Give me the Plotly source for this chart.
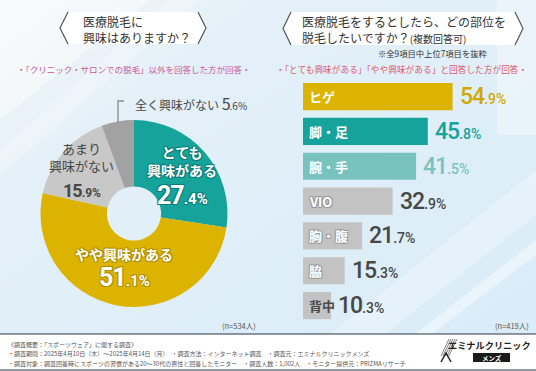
import base64
import numpy as np
import plotly.graph_objects as go

W, H = 536, 371

# ---------------- data ----------------
pie_labels = ["とても興味がある", "やや興味がある", "あまり興味がない", "全く興味がない"]
pie_values = [27.4, 51.1, 15.9, 5.6]

bar_labels = ["ヒゲ", "脚・足", "腕・手", "VIO", "胸・腹", "脇", "背中"]
bar_values = [54.9, 45.8, 41.5, 32.9, 21.7, 15.3, 10.3]

left_title = "医療脱毛に<br>興味はありますか？"
right_title = "医療脱毛をするとしたら、どの部位を<br>脱毛したいですか？<span style='font-size:10px'>(複数回答可)</span>"
left_sub = "・「クリニック・サロンでの脱毛」以外を回答した方が回答・"
right_sub = "・「とても興味がある」「やや興味がある」と回答した方が回答・"
right_note = "※全9項目中上位7項目を抜粋"
left_n = "(n=534人)"
right_n = "(n=419人)"
footer_lines = [
    "《調査概要：「スポーツウェア」に関する調査》",
    "・調査期間：2025年4月10日（木）～2025年4月14日（月）　・調査方法：インターネット調査　・調査元：エミナルクリニックメンズ",
    "・調査対象：調査回答時にスポーツの習慣がある20～30代の男性と回答したモニター　・調査人数：1,002人　・モニター提供元：PRIZMAリサーチ",
]
logo_main = "エミナルクリニック"
logo_sub = "メンズ"

# ---------------- styles ----------------
TEAL = "#16a39b"
GOLD = "#dcb400"
LTEAL = "#78c3be"
GRAY_BAR = "#c3c3c3"
PIE_COLORS = [TEAL, GOLD, "#c8c8c8", "#a2a2a2"]
BAR_COLORS = [GOLD, TEAL, LTEAL] + [GRAY_BAR] * 4
VAL_COLORS = ["#d2a800", TEAL, LTEAL] + ["#474747"] * 4
BAR_TXT_COLORS = ["white"] * 6 + ["#4a4a4a"]
JP = "Noto Sans CJK JP, sans-serif"
NUM = "Roboto, sans-serif"


def X(px):
    return px / W


def Y(py):
    return 1 - py / H


def outline(c):
    return f"1px 1px 0 {c}, -1px -1px 0 {c}, 1px -1px 0 {c}, -1px 1px 0 {c}"


def numtext(v, big, small):
    s = f"{v:.1f}"
    i, d = s.split(".")
    return (f"<span style='font-size:{big}px;letter-spacing:-1px'>{i}</span>"
            f"<span style='font-size:{small}px'>.{d}%</span>")


# ---------------- background image ----------------
svg = f"""<svg xmlns='http://www.w3.org/2000/svg' width='{W}' height='{H}'>
<defs><linearGradient id='g' x1='0' y1='0' x2='1' y2='1'>
<stop offset='0' stop-color='#f3f6f8'/><stop offset='0.28' stop-color='#e3f0f8'/>
<stop offset='1' stop-color='#d9ecf8'/></linearGradient></defs>
<rect width='{W}' height='{H}' fill='url(#g)'/>
<polygon points='0,0 150,0 0,120' fill='#ffffff' fill-opacity='0.45'/>
<polygon points='0,150 170,0 200,0 0,175' fill='#ffffff' fill-opacity='0.25'/>
<rect x='497' y='0' width='39' height='135' fill='#ffffff' fill-opacity='0.35'/>
<polygon points='330,334 385,334 536,215 536,170' fill='#ffffff' fill-opacity='0.3'/>
<polygon points='415,334 432,334 536,255 536,240' fill='#ffffff' fill-opacity='0.4'/>
</svg>"""
bg_src = "data:image/svg+xml;base64," + base64.b64encode(svg.encode()).decode()

fig = go.Figure()

# ---------------- pie ----------------
fig.add_trace(go.Pie(
    labels=pie_labels, values=pie_values, sort=False, direction="clockwise",
    rotation=0, hole=0.29, textinfo="none", showlegend=False,
    marker=dict(colors=PIE_COLORS, line=dict(width=0)),
    domain=dict(x=[X(40), X(228)], y=[Y(307), Y(120)]),
))

# ---------------- bars ----------------
fig.add_trace(go.Bar(
    x=bar_values, y=bar_labels, orientation="h", width=0.78,
    marker=dict(color=BAR_COLORS, line=dict(width=0)),
    xaxis="x", yaxis="y", showlegend=False, hoverinfo="x+y",
))

ann = []


def A(x, y, text, size, color, xanchor="center", yanchor="middle", align="left",
      family=JP, weight="normal", shadow="none", xref="paper", yref="paper",
      xshift=0, yshift=0):
    ann.append(dict(x=x, y=y, xref=xref, yref=yref, text=text, showarrow=False,
                    xanchor=xanchor, yanchor=yanchor, align=align,
                    xshift=xshift, yshift=yshift,
                    font=dict(size=size, color=color, family=family,
                              weight=weight, shadow=shadow)))


# bar labels and values
for lab, val, vc, tc in zip(bar_labels, bar_values, VAL_COLORS, BAR_TXT_COLORS):
    sh = outline("#9a9a9a") if (tc == "white" and lab in ["VIO", "胸・腹", "脇"]) else "none"
    A(0, lab, lab, 13, tc, xanchor="left", xref="x", yref="y", xshift=4,
      weight="bold", shadow=sh)
    A(val, lab, numtext(val, 23, 14), 14, vc, xanchor="left", xref="x", yref="y",
      xshift=5, family=NUM, weight=500)

# pie labels (positions from slice mid-angles)
cx, cy, R = 134, 213.5, 93.5
cum = np.cumsum([0] + pie_values[:-1])
mids = (cum + np.array(pie_values) / 2) / sum(pie_values) * 2 * np.pi
rfac = [0.68, 0.56, 0.74]
txt_dy = [-11, -11, -11]
num_dy = [23, 13, 23]
pie_txt = ["とても<br>興味がある", "やや興味がある", "あまり<br>興味がない"]
pie_txt_col = ["white", "white", "#474747"]
pie_sh = [outline("#0d7d77"), outline("#b08f00"), "none"]
pie_big = [25, 25, 18]
pie_small = [15, 15, 12]
pie_fs = [14, 14, 13]
for k in range(3):
    px_ = cx + rfac[k] * R * np.sin(mids[k])
    py_ = cy - rfac[k] * R * np.cos(mids[k])
    A(X(px_), Y(py_ + txt_dy[k]), pie_txt[k], pie_fs[k],
      pie_txt_col[k], align="center", weight="bold" if k < 2 else "normal",
      shadow=pie_sh[k])
    A(X(px_), Y(py_ + num_dy[k]), numtext(pie_values[k], pie_big[k], pie_small[k]),
      pie_small[k], pie_txt_col[k], family=NUM, weight="bold", shadow=pie_sh[k])

# outside label for last slice
A(X(133), Y(103), pie_labels[3] + " " + numtext(pie_values[3], 16, 10), 12,
  "#474747", xanchor="left")

# titles etc.
A(X(81), Y(29), left_title, 12, "#333333", xanchor="left")
A(X(300), Y(29), right_title, 12, "#333333", xanchor="left")
A(X(134), Y(69), left_sub, 8.5, "#cc5797")
A(X(401), Y(69), right_sub, 8.7, "#dc5a6a")
A(X(489), Y(53), right_note, 8.3, "#333333", xanchor="right")
A(X(258), Y(325), left_n, 7.5, "#555555", xanchor="right")
A(X(531), Y(325), right_n, 7.5, "#555555", xanchor="right")
for i, line in enumerate(footer_lines):
    A(X(6), Y(344 + 9.6 * i), line, 6.0, "#555555", xanchor="left")
A(X(533), Y(345), logo_main, 9.2, "#222222", xanchor="right", weight="bold")
A(X(491.5), Y(357.5), logo_sub, 6.5, "white", weight="bold")

# ---------------- shapes ----------------
shapes = []


def path(pts, close=True):
    s = "M " + " L ".join(f"{X(a):.5f},{Y(b):.5f}" for a, b in pts)
    return s + (" Z" if close else "")


for (x0, x1, y0, y1) in [(60, 206, 12, 44), (283, 523, 12, 45)]:
    ym = (y0 + y1) / 2
    shapes.append(dict(type="path", xref="paper", yref="paper",
                       path=path([(x0 + 8, y0), (x1 - 8, y0), (x1, ym), (x1 - 8, y1),
                                  (x0 + 8, y1), (x0, ym)]),
                       fillcolor="white", line=dict(width=0), layer="below"))
    for pts in [[(x0 + 8, y0), (x0, ym), (x0 + 8, y1)], [(x1 - 8, y0), (x1, ym), (x1 - 8, y1)]]:
        shapes.append(dict(type="path", xref="paper", yref="paper", path=path(pts, False),
                           line=dict(color="#555555", width=1.2)))

# leader line
shapes.append(dict(type="path", xref="paper", yref="paper",
                   path=path([(118, 123), (118, 101), (124, 101)], False),
                   line=dict(color="#8a8a8a", width=1.3)))

# footer
shapes.append(dict(type="rect", xref="paper", yref="paper", x0=0, x1=1, y0=0, y1=Y(334),
                   fillcolor="white", line=dict(width=0), layer="below"))
for yy in [334, 370]:
    shapes.append(dict(type="line", xref="paper", yref="paper", x0=0, x1=1, y0=Y(yy), y1=Y(yy),
                       line=dict(color="#26324a", width=1)))
# logo box and stripes
shapes.append(dict(type="rect", xref="paper", yref="paper", x0=X(473), x1=X(510),
                   y0=Y(362), y1=Y(353), fillcolor="#1a1a1a", line=dict(width=0)))
for k in range(5):
    xs = 441 + k * 2.0
    shapes.append(dict(type="line", xref="paper", yref="paper", x0=X(xs), y0=Y(356),
                       x1=X(xs + 8), y1=Y(339), line=dict(color="#666666", width=0.8)))
shapes.append(dict(type="path", xref="paper", yref="paper",
                   path=path([(441, 362), (446, 353), (451, 362)], False),
                   line=dict(color="#222222", width=1.5)))

fig.update_layout(
    width=W, height=H, margin=dict(l=0, r=0, t=0, b=0),
    paper_bgcolor="#e0f0fa", plot_bgcolor="rgba(0,0,0,0)",
    xaxis=dict(domain=[X(303), X(521)], range=[0, 80], visible=False, fixedrange=True),
    yaxis=dict(domain=[Y(323), Y(79.2)], categoryorder="array", categoryarray=bar_labels,
               autorange="reversed", visible=False, fixedrange=True, anchor="x"),
    images=[dict(source=bg_src, xref="paper", yref="paper", x=0, y=1, sizex=1, sizey=1,
                 sizing="stretch", layer="below")],
    annotations=ann, shapes=shapes, showlegend=False,
)

fig.write_html("out.html", config={"displayModeBar": False},
               post_script="document.body.style.margin='0';document.body.style.overflow='hidden';")
